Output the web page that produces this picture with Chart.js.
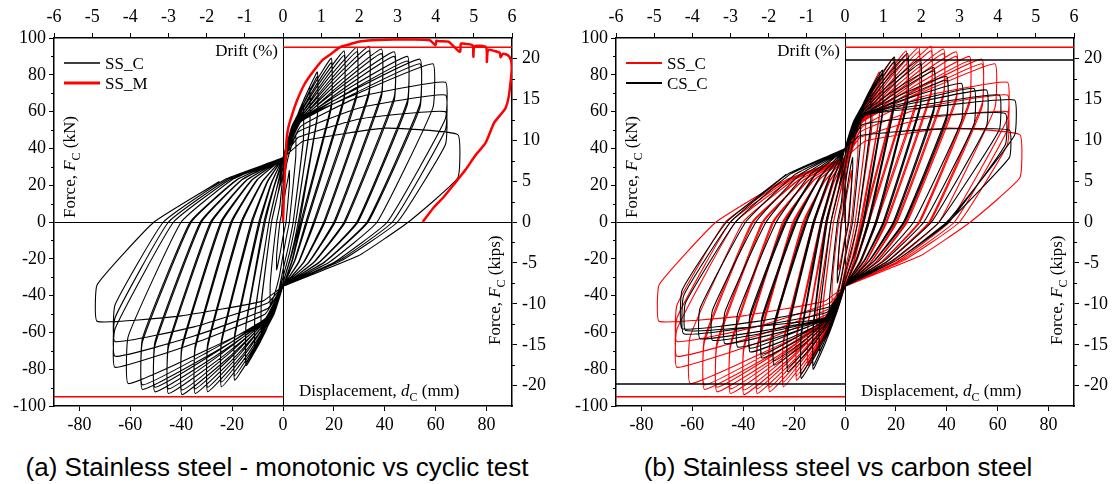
<!DOCTYPE html>
<html>
<head>
<meta charset="utf-8">
<script src="https://cdn.jsdelivr.net/npm/chart.js@4.4.0/dist/chart.umd.min.js"></script>
<style>
  body { margin: 0; background: #fff; width: 1114px; height: 484px; overflow: hidden; position: relative; }
  #wrapA { position: absolute; left: 0; top: 0; width: 557px; height: 440px; }
  #wrapB { position: absolute; left: 570px; top: 0; width: 544px; height: 440px; }
  .cap { position: absolute; top: 452px; line-height: 30px; font-family: 'Liberation Sans', Arial, sans-serif;
         font-size: 26px; color: #000; white-space: nowrap; transform: translateX(-50%); }
</style>
</head>
<body>
<div id="wrapA"><canvas id="chartA" width="557" height="440"></canvas></div>
<div id="wrapB"><canvas id="chartB" width="544" height="440"></canvas></div>
<div class="cap" style="left:277px">(a) Stainless steel - monotonic vs cyclic test</div>
<div class="cap" style="left:838px">(b) Stainless steel vs carbon steel</div>

<script>
// axis ticks
const dispTicks = [-80, -60, -40, -20, 0, 20, 40, 60, 80];
const driftTicks = [-6, -5, -4, -3, -2, -1, 0, 1, 2, 3, 4, 5, 6];
const forceTicks = [-100, -80, -60, -40, -20, 0, 20, 40, 60, 80, 100];
const forceMinor = [-90, -70, -50, -30, -10, 10, 30, 50, 70, 90];
const kipTicks = [-20, -15, -10, -5, 0, 5, 10, 15, 20];
const kipMinor = [-17.5, -12.5, -7.5, -2.5, 2.5, 7.5, 12.5, 17.5];
const kipsPerKN = 0.224809;

// reference force levels (kN)
const ssRefForce = 95;
const csRefForce = 88;

// monotonic test SS_M (displacement mm, force kN)
const ssmDisp = [0, 0.3, 0.8, 1.4, 2.2, 3.5, 5.5, 8.5, 12, 15.5, 19, 22.5, 26, 29.6, 35, 43.7, 50, 57.7,
  59.9, 60.3, 61, 65, 69.5, 69.9, 70.5, 74.5, 74.8, 75.3, 79.8, 80.1, 80.6, 83, 85.2, 85.5, 86.5, 88.5,
  89.6, 89.9, 89.6, 88.7, 87.5, 85.9, 83, 79.6, 75.5, 71.8, 67.5, 63.4, 59, 54.9];
const ssmForce = [0, 12, 28, 44.7, 52, 58, 66, 75, 82, 88, 91.5, 95, 96.5, 98, 98.8, 99.2, 99.2, 98.8,
  96, 98.5, 98.3, 98, 92.5, 97, 97, 96, 89.8, 95.5, 95, 87, 93.5, 93, 92, 89.5, 91.5, 90.5,
  88, 84, 78, 68, 62, 59, 54, 43, 36, 28.5, 21, 14, 7.5, 0];

// cyclic tests, one row per cycle read off the loops (mm, kN):
// + half: knee1 d,F | knee2 d,F | peak d,F | force after drop | zero crossing d | mid point d,F
// - half: knee1 d,F | knee2 d,F | peak d,F | force after drop | zero crossing d | mid point d,F
// pinch force at d = 0 when reloading (+) and unloading (-)
const ssCycles = [
  [1, 17, 2, 24, 2.5, 28, 20, 1.2, 0.6, -4,            -1, -16, -2, -23, -2.5, -26, -18, -1.2, -0.6, 4,             8, -8],
  [1.5, 32, 3.5, 42, 5, 47, 35, 2.5, 1.2, -9,          -1.5, -30, -3.5, -40, -5, -45, -33, -2.5, -1.2, 9,           18, -18],
  [2, 40, 5, 53, 8, 62, 45, 4, 2, -14,                 -2, -40, -5.2, -52, -8.5, -60, -44, -4.5, -2.2, 14,          26, -26],
  [2, 39, 5, 51, 8, 60, 44, 4, 2, -14,                 -2, -39, -5.2, -51, -8.5, -58, -43, -4.5, -2.2, 14,          26, -26],
  [2.5, 45, 6.5, 61, 10.5, 73, 52, 5, 2.5, -17,        -2.5, -44, -6.7, -59, -11, -70, -50, -5.5, -2.7, 17,         30, -30],
  [2.5, 44, 6.5, 59, 10.5, 71, 51, 5, 2.5, -17,        -2.5, -43, -6.7, -57, -11, -68, -49, -5.5, -2.7, 17,         30, -30],
  [3, 48, 8.3, 66.8, 13.5, 81.5, 58, 6, 3, -19,        -3, -47, -8.7, -64.5, -14.5, -78, -56, -7, -3.5, 19,         33, -33],
  [3, 47, 8.3, 65, 13.5, 79, 57, 6.5, 3.2, -19,        -3, -46, -8.7, -62.5, -14.5, -76, -55, -7.5, -3.7, 19,       33, -33],
  [3.5, 52, 11.3, 72.5, 19, 89, 64, 7, 3.5, -21,       -3.5, -50, -11.3, -70, -19, -86, -63, -9, -4.5, 21,          35, -35],
  [3.5, 51, 11.3, 70.5, 19, 86.5, 62, 7.5, 3.7, -21,   -3.5, -49, -11.3, -68, -19, -83.5, -61, -9.5, -4.7, 21,      35, -35],
  [4, 52.5, 13.8, 74.5, 24, 93, 68, 9, 4.5, -21,       -4, -50.5, -13.8, -71.8, -24.2, -89.6, -66, -12, -6, 22,     35, -35],
  [4, 51.5, 13.8, 72.5, 24, 90.5, 66, 9.5, 4.7, -21,   -4, -49.5, -13.8, -69.8, -24.2, -87, -64, -12.5, -6.2, 22,   35, -35],
  [4.5, 53, 16.3, 75.5, 29, 95, 70, 12, 6, -22,        -4.5, -51, -16.5, -73.2, -29.6, -92.3, -68, -16, -8, 22,     35, -35],
  [4.5, 52, 16.3, 73.5, 29, 92.5, 68, 12.5, 6.2, -22,  -4.5, -50, -16.5, -71.2, -29.6, -89.8, -66, -16.5, -8.2, 22, 35, -35],
  [5, 53.5, 18.7, 75.8, 33.8, 95.5, 71, 16, 8, -22,    -5, -51.5, -19, -73.6, -34.5, -93.2, -69, -20, -10, 23,      35, -35],
  [5, 52.5, 18.7, 73.8, 33.8, 93, 69, 16.5, 8.2, -22,  -5, -50.5, -19, -71.6, -34.5, -90.7, -67, -20.5, -10.2, 23,  35, -35],
  [5.5, 54, 21.1, 75, 38.7, 94, 70, 20, 10, -22,       -5.5, -52, -21.6, -73.9, -39.7, -93.8, -69, -24, -12, 23,    35, -35],
  [5.5, 53, 21.1, 73, 38.7, 91.5, 68, 20.5, 10.2, -22, -5.5, -51, -21.6, -71.9, -39.7, -91.3, -67, -24.5, -12.2, 23, 35, -35],
  [6, 54.5, 23.6, 74.3, 43.7, 92.5, 68, 24, 12, -22,   -6, -52.5, -24.2, -73.6, -45, -93.2, -68, -28, -14, 23,      35, -35],
  [6, 53.5, 23.6, 72.3, 43.7, 90, 66, 24.5, 12.2, -22, -6, -51.5, -24.2, -71.6, -45, -90.7, -66, -28.5, -14.2, 23,  35, -35],
  [6.5, 55, 26.2, 73, 48.9, 90, 66, 29, 14, -22,       -6.5, -53, -26.9, -73.2, -50.3, -92.3, -67, -32, -16, 23,    35, -35],
  [6.5, 54, 26.2, 71, 48.9, 87.5, 64, 29.5, 14.2, -22, -6.5, -52, -26.9, -71.2, -50.3, -89.8, -65, -32.5, -16.2, 23, 35, -35],
  [7, 55.5, 28.7, 72.3, 53.8, 88.5, 64, 33, 16, -22,   -7, -53.5, -29.3, -72.5, -55.2, -91, -65, -36, -18, 23,      35, -35],
  [7, 54.5, 28.7, 70.3, 53.8, 86, 62, 33.5, 16.2, -22, -7, -52.5, -29.3, -70.5, -55.2, -88.5, -63, -36.5, -18.2, 23, 35, -35],
  [7.5, 56, 31.2, 71, 58.9, 86, 62, 37, 18, -22,       -7.5, -54, -32.1, -70.9, -60.8, -87.8, -62, -40, -20, 23,    35, -35],
  [7, 52, 30, 68, 63.8, 76, 56, 41, 20, -22,           -7, -50, -35, -66, -66, -79, -58, -43, -21, 23,              35, -35],
  [6, 49, 30, 62, 63.8, 69, 50, 43, 22, -21,           -6, -47, -35, -62, -66, -73, -52, -45, -22, 23,              35, -35],
  [6, 46, 30, 56, 63.8, 60, 42, 45, 23, -21,           -6, -44, -35, -57, -66, -65, -45, -47, -23, 23,              35, -35],
  [8, 44, 40, 51, 68.7, 47.5, 24, 49.3, 29.6, -18.4,   -8, -43, -40, -51, -73, -54, -34, -50.7, -25, 22,            35, -35]
];
const csCycles = [
  [1, 20, 2.2, 30, 3, 35, 28, 1.5, 0.8, -5,            -1, -18, -2.2, -28, -3, -33, -26, -1.5, -0.8, 5,             10, -10],
  [1.8, 35, 4.2, 48, 6, 55, 42, 3, 1.5, -10,           -1.8, -33, -4.2, -46, -6, -52, -40, -3, -1.5, 10,            20, -20],
  [2.5, 47, 6.2, 61, 10, 71, 52, 5, 2.5, -15,          -2.5, -44, -6.2, -59, -10, -70, -50, -5.5, -2.7, 16,         30, -28],
  [2.5, 46, 6.2, 59, 10, 69, 51, 5, 2.5, -15,          -2.5, -43, -6.2, -58, -10, -68, -49, -5.5, -2.7, 16,         30, -28],
  [3, 52, 8.9, 69.3, 14.7, 82.5, 60, 7, 3.5, -18,      -3, -48, -7.8, -66, -12.5, -80, -58, -7, -3.5, 20,           36, -32],
  [3, 51, 8.9, 67.3, 14.7, 80, 58, 7.5, 3.7, -18,      -3, -47, -7.8, -64, -12.5, -78, -56, -7.5, -3.7, 20,         36, -32],
  [3.5, 55, 11.5, 74.4, 19.4, 89.7, 65, 9, 4.5, -20,   -3.5, -50, -10.4, -69.5, -17.2, -85, -62, -9, -4.5, 23,      40, -35],
  [3.5, 54, 11.5, 72.4, 19.4, 87, 63, 9.5, 4.7, -20,   -3.5, -49, -10.4, -67.5, -17.2, -82.5, -60, -9.5, -4.7, 23,  40, -35],
  [4, 55.5, 14.1, 75.3, 24.6, 91.5, 67, 12, 6, -21,    -4, -50.5, -13, -67.7, -22.5, -81.4, -60, -12, -6, 24,       40, -35],
  [4, 54.5, 14.1, 73.3, 24.6, 89, 65, 12.5, 6.2, -21,  -4, -49.5, -13, -65.7, -22.5, -79, -58, -12.5, -6.2, 24,     40, -35],
  [4.5, 56, 16.6, 73.8, 29.6, 88.5, 64, 15, 7.5, -21,  -4.5, -51, -15.7, -65.9, -27.9, -77.8, -57, -15, -7.5, 25,   40, -35],
  [4.5, 55, 16.6, 71.8, 29.6, 86, 62, 15.5, 7.7, -21,  -4.5, -50, -15.7, -63.9, -27.9, -75.5, -55, -15.5, -7.7, 25, 40, -35],
  [5, 56.5, 19.2, 71.5, 34.9, 84, 62, 19, 9.5, -21,    -5, -51.5, -18.1, -64, -32.7, -73.9, -54, -19, -9.5, 25,     40, -35],
  [5, 55.5, 19.2, 69.5, 34.9, 82, 60, 19.5, 9.7, -21,  -5, -50.5, -18.1, -62, -32.7, -71.8, -52, -19.5, -9.7, 25,   40, -35],
  [5.5, 57, 21.8, 69, 40, 79, 58, 23, 11.5, -21,       -5.5, -52, -20.4, -62.3, -37.3, -70.6, -52, -23, -11.5, 26,  40, -35],
  [5.5, 56, 21.8, 67, 40, 77, 56, 23.5, 11.7, -21,     -5.5, -51, -20.4, -60.3, -37.3, -68.6, -50, -23.5, -11.7, 26, 40, -35],
  [6, 57.5, 24.7, 67.2, 45.8, 75.3, 55, 27, 13.5, -21, -6, -52, -22.9, -61, -42.2, -68, -50, -27, -13.5, 26,        40, -35],
  [6.5, 58, 27.1, 65.8, 50.7, 72.6, 53, 31, 15.5, -21, -6.5, -52, -25.4, -60, -47.2, -66.1, -49, -31, -15.5, 26,    40, -35],
  [7, 58, 29.6, 65.4, 55.6, 71.7, 52, 34, 17, -21,     -7, -52, -27.8, -59.2, -52.1, -64.3, -48, -35, -17.5, 26,    40, -35],
  [7.5, 58, 32.1, 64, 60.6, 69, 50, 37, 18.5, -21,     -7.5, -52, -30.3, -58.7, -57, -63.4, -47, -39, -19.5, 26,    40, -35],
  [8, 58, 35, 62.7, 66.6, 66.3, 47, 40, 20, -21,       -8, -52, -33.1, -56.5, -62.7, -59, -44, -43, -21.5, 26,      40, -35],
  [7, 53, 33, 57.5, 63, 59, 42, 40.8, 20, -21,         -7, -49, -33.7, -56.5, -63.4, -60.7, -40, -45, -22.5, 26,    40, -35],
  [6, 47, 35, 50.5, 64.6, 50, 35, 40.5, 20, -21,       -6, -46, -34.5, -54, -64, -58, -37, -46.5, -23, 26,          40, -35]
];

const serif = "'Liberation Serif', 'Times New Roman', serif";
const RED = '#ff0000';

function loopPath(rows) {
  const pts = [{ x: 0, y: 0 }];
  rows.forEach(r => {
    const [p1d, p1f, p2d, p2f, pd, pf, pDrop, pZero, pMd, pMf,
           n1d, n1f, n2d, n2f, nd, nf, nDrop, nZero, nMd, nMf, pinUp, pinDn] = r;
    pts.push({ x: 0, y: pinUp }, { x: p1d, y: p1f }, { x: p2d, y: p2f }, { x: pd, y: pf }, { x: pd, y: pDrop },
             { x: pZero, y: 0 }, { x: pMd, y: pMf }, { x: 0, y: pinDn },
             { x: n1d, y: n1f }, { x: n2d, y: n2f }, { x: nd, y: nf }, { x: nd, y: nDrop },
             { x: nZero, y: 0 }, { x: nMd, y: nMf });
  });
  return pts;
}

function curve(xs, ys) {
  return xs.map((x, i) => ({ x: x, y: ys[i] }));
}

function refLine(level, color, order) {
  const xs = level > 0 ? [0, 90] : [-90, 0];
  return { data: curve(xs, [level, level]), borderColor: color, borderWidth: 1.5, order: order };
}

function loopSet(rows, color, order) {
  return { data: loopPath(rows), borderColor: color, borderWidth: 1.1, tension: 0.12, order: order };
}

// small rich-text helper: parts are [text, 'n' | 'i' | 's']
function drawRich(ctx, parts, x, y, size) {
  let cx = x;
  parts.forEach(([t, st]) => {
    if (st === 'i') ctx.font = `italic ${size}px ${serif}`;
    else if (st === 's') ctx.font = `${Math.round(size * 0.72)}px ${serif}`;
    else ctx.font = `${size}px ${serif}`;
    ctx.fillText(t, cx, st === 's' ? y + 5 : y);
    cx += ctx.measureText(t).width;
  });
}

const panelText = {
  id: 'panelText',
  afterDraw(chart, args, opts) {
    const ctx = chart.ctx, a = chart.chartArea;
    const x0 = chart.scales.x.getPixelForValue(0);
    const y0 = chart.scales.y.getPixelForValue(0);
    ctx.save();
    ctx.fillStyle = '#000';
    ctx.textBaseline = 'alphabetic';

    // minor ticks on both force axes
    ctx.strokeStyle = '#000';
    ctx.lineWidth = 1;
    ctx.beginPath();
    forceMinor.forEach(v => {
      const p = Math.round(chart.scales.y.getPixelForValue(v)) + 0.5;
      ctx.moveTo(a.left - 3, p); ctx.lineTo(a.left, p);
    });
    kipMinor.forEach(v => {
      const p = Math.round(chart.scales.yR.getPixelForValue(v)) + 0.5;
      ctx.moveTo(a.right, p); ctx.lineTo(a.right + 3, p);
    });
    ctx.stroke();

    ctx.font = `17px ${serif}`;
    ctx.textAlign = 'right';
    ctx.fillText('Drift (%)', x0 - 5, a.top + 18);
    ctx.textAlign = 'left';
    drawRich(ctx, [['Displacement, ', 'n'], ['d', 'i'], ['C', 's'], [' (mm)', 'n']], x0 + 16, a.bottom - 10, 17);

    ctx.save();
    ctx.translate(a.left + 21, y0 - 4);
    ctx.rotate(-Math.PI / 2);
    drawRich(ctx, [['Force, ', 'n'], ['F', 'i'], ['C', 's'], [' (kN)', 'n']], 0, 0, 17);
    ctx.restore();

    ctx.save();
    ctx.translate(a.right - 12, y0 + 123);
    ctx.rotate(-Math.PI / 2);
    drawRich(ctx, [['Force, ', 'n'], ['F', 'i'], ['C', 's'], [' (kips)', 'n']], 0, 0, 17);
    ctx.restore();

    // legend
    opts.items.forEach((it, i) => {
      const ly = a.top + 25 + i * 20;
      ctx.strokeStyle = it.color;
      ctx.lineWidth = it.width;
      ctx.beginPath();
      ctx.moveTo(a.left + 10, ly); ctx.lineTo(a.left + 46, ly);
      ctx.stroke();
      ctx.font = `17px ${serif}`;
      ctx.fillText(it.label, a.left + 51, ly + 6);
    });
    ctx.restore();
  }
};

function zeroGrid(c) {
  return c.tick && c.tick.value === 0 ? '#000' : 'rgba(0,0,0,0)';
}

function makeScales(leftW, rightW) {
  const tickFont = { family: serif, size: 18 };
  const border = { display: true, color: '#000', width: 1.5 };
  return {
    x: {
      type: 'linear', position: 'bottom', min: -90, max: 90,
      afterBuildTicks: s => { s.ticks = dispTicks.map(v => ({ value: v })); },
      afterFit: s => { s.height = 34; },
      grid: { drawOnChartArea: true, color: zeroGrid, lineWidth: 1, tickColor: '#000', tickLength: 5 },
      border: border,
      ticks: { font: tickFont, color: '#000', padding: 3, maxRotation: 0, autoSkip: false, callback: v => String(v) }
    },
    xTop: {
      type: 'linear', position: 'top', min: -6, max: 6,
      afterBuildTicks: s => { s.ticks = driftTicks.map(v => ({ value: v })); },
      afterFit: s => { s.height = 38; },
      grid: { drawOnChartArea: false, tickColor: '#000', tickLength: 5 },
      border: border,
      ticks: { font: tickFont, color: '#000', padding: 5, maxRotation: 0, autoSkip: false, callback: v => String(v) }
    },
    y: {
      type: 'linear', position: 'left', min: -100, max: 100,
      afterBuildTicks: s => { s.ticks = forceTicks.map(v => ({ value: v })); },
      afterFit: s => { s.width = leftW; },
      grid: { drawOnChartArea: true, color: zeroGrid, lineWidth: 1, tickColor: '#000', tickLength: 5 },
      border: border,
      ticks: { font: tickFont, color: '#000', padding: 3, autoSkip: false, callback: v => String(v) }
    },
    yR: {
      type: 'linear', position: 'right', min: -100 * kipsPerKN, max: 100 * kipsPerKN,
      afterBuildTicks: s => { s.ticks = kipTicks.map(v => ({ value: v })); },
      afterFit: s => { s.width = rightW; },
      grid: { drawOnChartArea: false, tickColor: '#000', tickLength: 5 },
      border: border,
      ticks: { font: tickFont, color: '#000', padding: 5, autoSkip: false, callback: v => String(v) }
    }
  };
}

function makeChart(id, datasets, legendItems, leftW, rightW) {
  datasets.forEach(d => { d.pointRadius = 0; d.showLine = true; d.fill = false; });
  return new Chart(document.getElementById(id), {
    type: 'scatter',
    data: { datasets: datasets },
    options: {
      responsive: false,
      animation: false,
      layout: { padding: 0 },
      plugins: { legend: { display: false }, tooltip: { enabled: false }, panelText: { items: legendItems } },
      scales: makeScales(leftW, rightW)
    },
    plugins: [panelText]
  });
}

makeChart('chartA', [
  { data: curve(ssmDisp, ssmForce), borderColor: RED, borderWidth: 2.5, tension: 0.2, order: 0 },
  refLine(ssRefForce, RED, 1),
  refLine(-ssRefForce, RED, 1),
  loopSet(ssCycles, '#000', 2)
], [
  { label: 'SS_C', color: '#000', width: 1.5 },
  { label: 'SS_M', color: RED, width: 3 }
], 54, 45);

makeChart('chartB', [
  loopSet(csCycles, '#000', 1),
  loopSet(ssCycles, RED, 2),
  refLine(ssRefForce, RED, 0),
  refLine(-ssRefForce, RED, 0),
  refLine(csRefForce, '#000', 0),
  refLine(-csRefForce, '#000', 0)
], [
  { label: 'SS_C', color: RED, width: 2 },
  { label: 'CS_C', color: '#000', width: 2 }
], 46, 40);
</script>
</body>
</html>
